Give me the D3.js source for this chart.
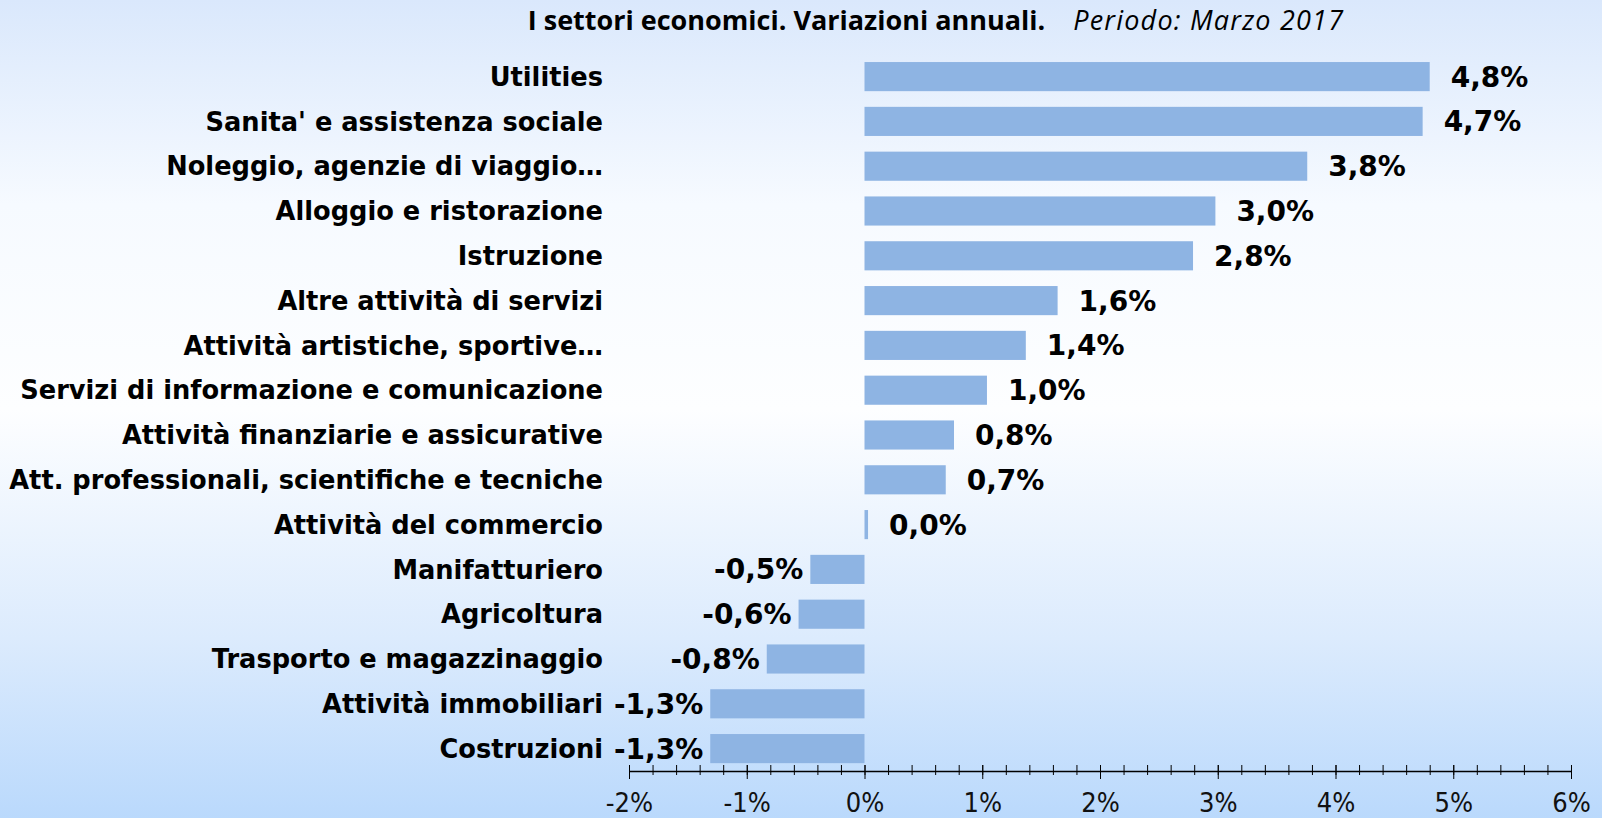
<!DOCTYPE html>
<html lang="it">
<head>
<meta charset="UTF-8">
<title>I settori economici</title>
<script src="https://cdn.jsdelivr.net/npm/d3@7"></script>
<style>
  html, body { margin: 0; padding: 0; overflow: hidden; }
  svg { display: block; }
</style>
</head>
<body>
<div id="chart"></div>
<script>
// categories, top to bottom
const sectors = [
    "Utilities",
    "Sanita' e assistenza sociale",
    "Noleggio, agenzie di viaggio…",
    "Alloggio e ristorazione",
    "Istruzione",
    "Altre attività di servizi",
    "Attività artistiche, sportive…",
    "Servizi di informazione e comunicazione",
    "Attività finanziarie e assicurative",
    "Att. professionali, scientifiche e tecniche",
    "Attività del commercio",
    "Manifatturiero",
    "Agricoltura",
    "Trasporto e magazzinaggio",
    "Attività immobiliari",
    "Costruzioni"
];
// annual change, %
const changes = [4.80, 4.74, 3.76, 2.98, 2.79, 1.64, 1.37, 1.04, 0.76, 0.69, 0.03, -0.46, -0.56, -0.83, -1.31, -1.31];
const axisTicks = [-2, -1, 0, 1, 2, 3, 4, 5, 6];

const W = 1602, H = 818;

const it = d3.formatLocale({decimal: ",", thousands: ".", grouping: [3], currency: ["", "€"], minus: "-"});
const pct1 = v => it.format(".1f")(v) + "%";
const pct0 = v => it.format(".0f")(v) + "%";

const svg = d3.select("#chart").append("svg")
    .attr("width", W)
    .attr("height", H);

// background gradient
const grad = svg.append("defs").append("linearGradient")
    .attr("id", "bg").attr("x1", 0).attr("y1", 0).attr("x2", 0).attr("y2", 1);
[[0, "#dae8fc"], [0.25, "#f6faff"], [0.5, "#fdfeff"], [0.78, "#dcebfd"], [1, "#bad9fc"]]
    .forEach(s => grad.append("stop").attr("offset", s[0]).attr("stop-color", s[1]));
svg.append("rect").attr("width", W).attr("height", H).attr("fill", "url(#bg)");

// title
const title = svg.append("text")
    .attr("x", 936).attr("y", 30)
    .attr("text-anchor", "middle")
    .style("font-family", "'Open Sans', sans-serif")
    .style("font-size", "27px")
    .attr("fill", "#000");
title.append("tspan").style("font-weight", "bold").text("I settori economici. Variazioni annuali.");
title.append("tspan").attr("dx", 28).style("font-style", "italic").style("letter-spacing", "1.2px").text("Periodo: Marzo 2017");

const x = d3.scaleLinear().domain([-2, 6]).range([629, 1571]);
const y = d3.scaleBand().domain(sectors).range([54.2, 771]).paddingInner(0.35).paddingOuter(0.175);

const rows = sectors.map((s, i) => ({name: s, value: changes[i]}));

svg.selectAll(".bar").data(rows).enter().append("rect")
    .attr("class", "bar")
    .attr("x", d => x(Math.min(0, d.value)))
    .attr("y", d => y(d.name))
    .attr("width", d => Math.abs(x(d.value) - x(0)))
    .attr("height", y.bandwidth())
    .attr("fill", "#8eb4e3");

// category labels
svg.selectAll(".cat").data(rows).enter().append("text")
    .attr("class", "cat")
    .attr("x", 603)
    .attr("y", d => y(d.name) + y.bandwidth() / 2)
    .attr("dy", "0.36em")
    .attr("text-anchor", "end")
    .style("font-family", "'DejaVu Sans', sans-serif")
    .style("font-weight", "bold")
    .style("font-size", "25.7px")
    .attr("fill", "#000")
    .text(d => d.name);

// value labels
svg.selectAll(".val").data(rows).enter().append("text")
    .attr("class", "val")
    .attr("x", d => d.value >= 0 ? x(d.value) + 21 : x(d.value) - 7)
    .attr("y", d => y(d.name) + y.bandwidth() / 2)
    .attr("dy", "0.36em")
    .attr("text-anchor", d => d.value >= 0 ? "start" : "end")
    .style("font-family", "'DejaVu Sans', sans-serif")
    .style("font-weight", "bold")
    .style("font-size", "28px")
    .attr("fill", "#000")
    .text(d => pct1(d.value));

// axis: minor ticks every 0.2, major every 1
const axisY = 771;
const minor = svg.append("g")
    .attr("transform", "translate(0," + axisY + ")")
    .call(d3.axisBottom(x).tickValues(d3.range(-20, 61, 2).map(v => v / 10)).tickSize(4).tickSizeOuter(0).tickFormat(""));
minor.selectAll(".tick line").attr("y1", -6);
minor.select(".domain").remove();

const major = svg.append("g")
    .attr("transform", "translate(0," + axisY + ")")
    .call(d3.axisBottom(x).tickValues(axisTicks).tickSize(8).tickSizeOuter(0).tickFormat(pct0));
major.selectAll(".tick line").attr("y1", -6);
major.select(".domain").attr("stroke", "#000").attr("stroke-width", 1.3);
major.selectAll(".tick text")
    .attr("y", 31).attr("dy", "0.36em")
    .style("font-family", "'DejaVu Sans Condensed', sans-serif")
    .style("font-size", "27px")
    .attr("fill", "#111");
</script>
</body>
</html>
